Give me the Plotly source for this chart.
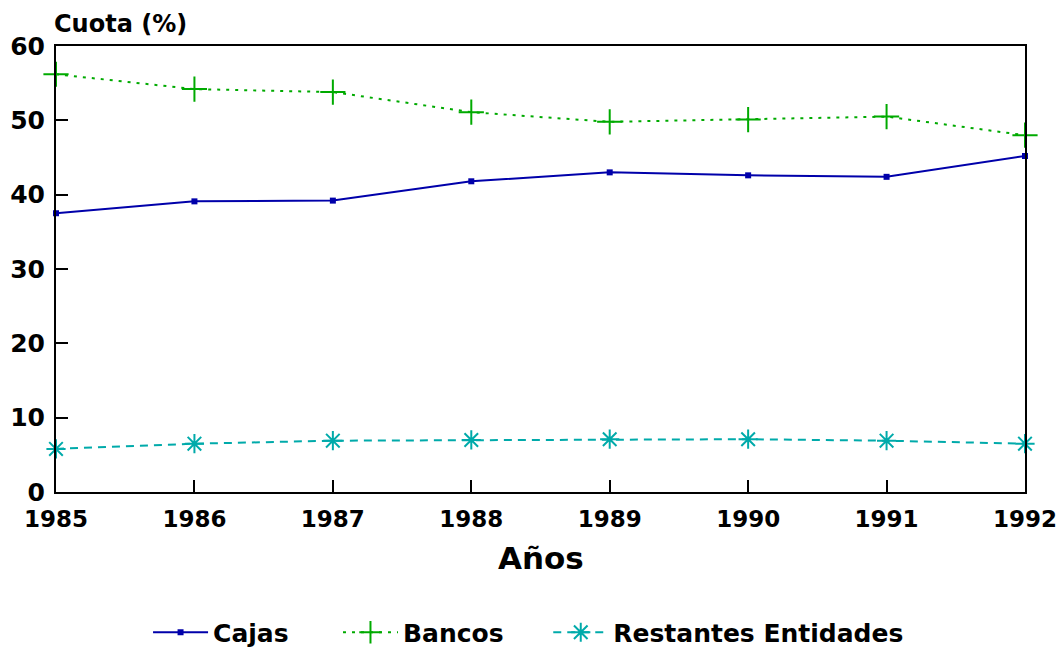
import plotly.graph_objects as go

years = [1985, 1986, 1987, 1988, 1989, 1990, 1991, 1992]
cajas = [37.5, 39.1, 39.2, 41.8, 43.0, 42.6, 42.4, 45.2]
bancos = [56.2, 54.2, 53.8, 51.1, 49.8, 50.1, 50.5, 48.0]
restantes = [5.8, 6.5, 6.9, 7.0, 7.1, 7.1, 6.9, 6.5]

FONT = "DejaVu Sans"

fig = go.Figure()
fig.add_trace(go.Scatter(
    x=years, y=cajas, name="Cajas", mode="lines+markers",
    line=dict(color="#0000AA", width=2),
    marker=dict(symbol="square", size=6, color="#0000AA"),
    cliponaxis=False, legend="legend",
))
fig.add_trace(go.Scatter(
    x=years, y=bancos, name="Bancos", mode="lines+markers",
    line=dict(color="#00AA00", width=2, dash="3px,6px"),
    marker=dict(symbol="cross-thin", size=18, color="#00AA00",
                line=dict(color="#00AA00", width=2)),
    cliponaxis=False, legend="legend2",
))
fig.add_trace(go.Scatter(
    x=years, y=restantes, name="Restantes Entidades", mode="lines+markers",
    line=dict(color="#00AAAA", width=2, dash="8px,6px"),
    marker=dict(symbol="asterisk-open", size=16, color="#00AAAA",
                line=dict(color="#00AAAA", width=2)),
    cliponaxis=False, legend="legend3",
))

legend_common = dict(orientation="h", xanchor="left", y=-0.315, yanchor="middle",
                     font=dict(family=FONT, size=25, weight="bold"),
                     itemwidth=55, bgcolor="rgba(0,0,0,0)")

# page body has an 8px margin, so the figure is offset by 8px
fig.update_layout(
    width=1056, height=639,
    margin=dict(l=48, r=39, t=38, b=155, autoexpand=False),
    paper_bgcolor="white", plot_bgcolor="white",
    font=dict(family=FONT, color="black", size=24, weight="bold"),
    showlegend=True,
    legend=dict(x=0.095, **legend_common),
    legend2=dict(x=0.291, **legend_common),
    legend3=dict(x=0.508, **legend_common),
    xaxis=dict(
        range=[1985, 1992], tickmode="array", tickvals=years,
        ticktext=[str(y) for y in years], automargin=False,
        showgrid=False, zeroline=False,
        showline=True, linecolor="black", linewidth=2, mirror=True,
        ticks="inside", ticklen=12, tickwidth=2, tickcolor="black",
        tickfont=dict(family=FONT, size=23, weight="bold"),
        ticklabelstandoff=5,
    ),
    yaxis=dict(
        range=[0, 60], tickmode="array", tickvals=[0, 10, 20, 30, 40, 50, 60],
        automargin=False,
        showgrid=False, zeroline=False,
        showline=True, linecolor="black", linewidth=2, mirror=True,
        ticks="inside", ticklen=12, tickwidth=2, tickcolor="black",
        tickfont=dict(family=FONT, size=25, weight="bold"),
        ticklabelstandoff=4,
    ),
    annotations=[
        dict(text="Cuota (%)", xref="paper", yref="paper", x=0, y=1,
             xanchor="left", yanchor="middle", yshift=22, xshift=-4,
             showarrow=False,
             font=dict(family=FONT, size=24, weight="bold")),
        dict(text="Años", xref="paper", yref="paper", x=0.5, y=0,
             xanchor="center", yanchor="middle", yshift=-66, showarrow=False,
             font=dict(family=FONT, size=31, weight="bold")),
    ],
)

fig.write_html("out.html")
